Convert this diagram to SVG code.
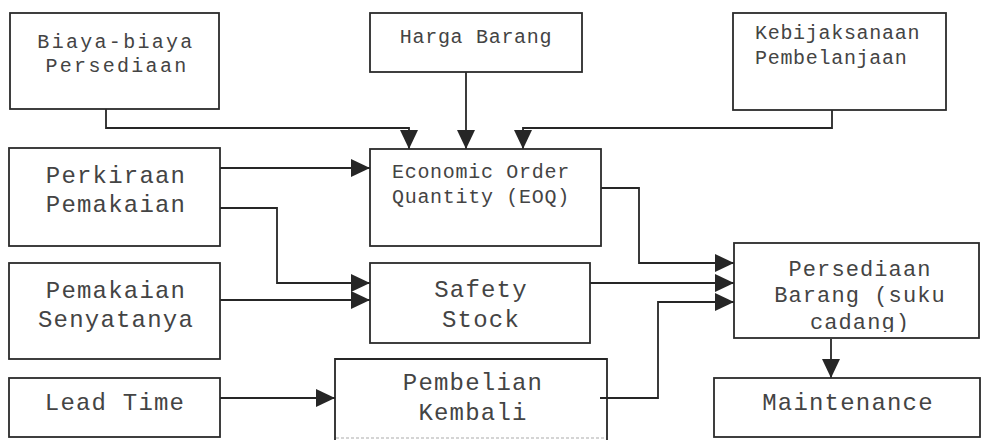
<svg xmlns="http://www.w3.org/2000/svg" width="985" height="440" viewBox="0 0 985 440">
<style>
.box{fill:#fff;stroke:#2b2b2b;stroke-width:1.8}
.t{font-family:"Liberation Mono","DejaVu Sans Mono",monospace;fill:#444}
.s{font-size:20px;letter-spacing:0.7px}
.m{font-size:22px;letter-spacing:1.1px}
.mb{font-size:20px;letter-spacing:2.3px}
.l{font-size:24px;letter-spacing:1.2px}
.c{text-anchor:middle}
.ln{fill:none;stroke:#262626;stroke-width:1.8}
</style>
<defs>
<marker id="ah" markerUnits="userSpaceOnUse" markerWidth="19" markerHeight="18" refX="19" refY="9" orient="auto">
<path d="M0,0 L19,9 L0,18 Z" fill="#262626"/>
</marker>
<clipPath id="clipP"><rect x="734" y="242" width="246" height="90"/></clipPath>
</defs>
<rect width="985" height="440" fill="#fff"/>

<g id="connectors">
<path class="ln" d="M106,109 V128 H409 V149" marker-end="url(#ah)"/>
<path class="ln" d="M466,72 V149" marker-end="url(#ah)"/>
<path class="ln" d="M832,110 V128 H523 V149" marker-end="url(#ah)"/>
<path class="ln" d="M220,168 H370" marker-end="url(#ah)"/>
<path class="ln" d="M220,208 H277 V283 H370" marker-end="url(#ah)"/>
<path class="ln" d="M220,300 H370" marker-end="url(#ah)"/>
<path class="ln" d="M220,398 H335" marker-end="url(#ah)"/>
<path class="ln" d="M601,188 H639 V263 H734" marker-end="url(#ah)"/>
<path class="ln" d="M582,283 H734" marker-end="url(#ah)"/>
<path class="ln" d="M600,398 H658 V302 H734" marker-end="url(#ah)"/>
<path class="ln" d="M831,339 V378" marker-end="url(#ah)"/>
</g>

<g id="biaya">
<rect class="box" x="10" y="13" width="209" height="96"/>
<text class="t mb c" x="116" y="48">Biaya-biaya</text>
<text class="t mb c" x="117" y="72">Persediaan</text>
</g>

<g id="harga">
<rect class="box" x="370" y="13" width="212" height="59"/>
<text class="t s c" x="476" y="43">Harga Barang</text>
</g>

<g id="kebijakan">
<rect class="box" x="733" y="13" width="213" height="97"/>
<text class="t s" x="755" y="39">Kebijaksanaan</text>
<text class="t s" x="755" y="64">Pembelanjaan</text>
</g>

<g id="perkiraan">
<rect class="box" x="9" y="148" width="211" height="98"/>
<text class="t l c" x="116" y="183">Perkiraan</text>
<text class="t l c" x="116" y="212">Pemakaian</text>
</g>

<g id="eoq">
<rect class="box" x="370" y="149" width="231" height="97"/>
<text class="t s" x="392" y="178">Economic Order</text>
<text class="t s" x="392" y="203">Quantity (EOQ)</text>
</g>

<g id="senyatanya">
<rect class="box" x="9" y="263" width="211" height="96"/>
<text class="t l c" x="116" y="298">Pemakaian</text>
<text class="t l c" x="116" y="327">Senyatanya</text>
</g>

<g id="safety">
<rect class="box" x="370" y="263" width="220" height="80"/>
<text class="t l c" x="481" y="297">Safety</text>
<text class="t l c" x="481" y="327">Stock</text>
</g>

<g id="leadtime">
<rect class="box" x="9" y="378" width="211" height="59"/>
<text class="t l c" x="115" y="410">Lead Time</text>
</g>

<g id="pembelian">
<path class="ln" d="M335,440 V359 H607 V440"/>
<path d="M336,438 H606" fill="none" stroke="#777" stroke-width="1.2" stroke-dasharray="3 2" opacity="0.6"/>
<text class="t l c" x="473" y="390">Pembelian</text>
<text class="t l c" x="473" y="420">Kembali</text>
</g>

<g id="persediaan">
<rect class="box" x="734" y="243" width="245" height="95"/>
<g clip-path="url(#clipP)">
<text class="t m c" x="860" y="276">Persediaan</text>
<text class="t m c" x="860" y="302">Barang (suku</text>
<text class="t m c" x="860" y="329">cadang)</text>
</g>
</g>

<g id="maintenance">
<rect class="box" x="714" y="378" width="266" height="59"/>
<text class="t l c" x="848" y="410">Maintenance</text>
</g>
</svg>
